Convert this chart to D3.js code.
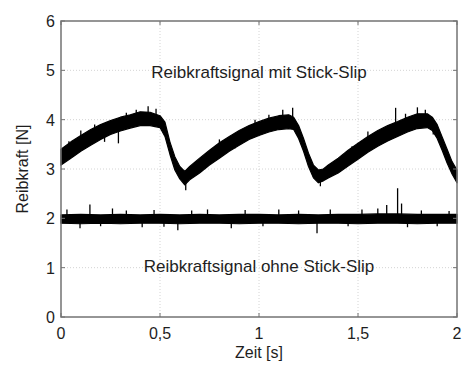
<!DOCTYPE html>
<html>
<head>
<meta charset="utf-8">
<script src="https://cdn.jsdelivr.net/npm/d3@7"></script>
<style>
  body { margin: 0; background: #fff; }
  text { font-family: 'Liberation Sans', Arial, Helvetica, sans-serif; fill: #1e1e1e; }
</style>
</head>
<body>
<div id="container"></div>
<script>
// Zeitachse und Bänder (obere/untere Kante des verrauschten Signals)
const stickTime = [0, 0.05, 0.1, 0.15, 0.2, 0.25, 0.3, 0.35, 0.4, 0.45, 0.5, 0.525, 0.55, 0.575, 0.6, 0.625, 0.65,
  0.7, 0.75, 0.8, 0.85, 0.9, 0.95, 1.0, 1.05, 1.1, 1.15, 1.175, 1.2, 1.225, 1.25, 1.275, 1.3, 1.325, 1.35,
  1.4, 1.45, 1.5, 1.55, 1.6, 1.65, 1.7, 1.75, 1.8, 1.85, 1.875, 1.9, 1.925, 1.95, 1.975, 2.0];
const stickHi = [3.40, 3.55, 3.68, 3.80, 3.90, 3.98, 4.05, 4.10, 4.16, 4.15, 4.08, 3.95, 3.55, 3.25, 3.05, 2.95, 3.05,
  3.22, 3.38, 3.53, 3.66, 3.78, 3.88, 3.96, 4.03, 4.08, 4.10, 4.05, 3.88, 3.62, 3.32, 3.08, 2.98, 3.00, 3.08,
  3.22, 3.38, 3.52, 3.66, 3.78, 3.88, 3.96, 4.05, 4.12, 4.12, 4.05, 3.90, 3.65, 3.40, 3.15, 2.98];
const stickLo = [3.08, 3.22, 3.36, 3.48, 3.60, 3.70, 3.77, 3.83, 3.88, 3.88, 3.84, 3.66, 3.30, 2.98, 2.80, 2.68, 2.78,
  2.92, 3.08, 3.22, 3.36, 3.48, 3.60, 3.68, 3.75, 3.80, 3.82, 3.80, 3.62, 3.36, 3.05, 2.82, 2.72, 2.76, 2.82,
  2.92, 3.06, 3.20, 3.34, 3.46, 3.57, 3.66, 3.75, 3.82, 3.84, 3.78, 3.62, 3.38, 3.12, 2.90, 2.72];

const flatTime = [0, 0.1, 0.2, 0.3, 0.4, 0.5, 0.6, 0.7, 0.8, 0.9, 1.0, 1.1, 1.2, 1.3, 1.4, 1.5, 1.6, 1.7, 1.8, 1.9, 2.0];
const flatHi = [2.07, 2.08, 2.07, 2.08, 2.07, 2.08, 2.07, 2.08, 2.07, 2.08, 2.08, 2.07, 2.08, 2.07, 2.08, 2.08, 2.09, 2.09, 2.08, 2.08, 2.08];
const flatLo = [1.90, 1.89, 1.90, 1.89, 1.90, 1.90, 1.89, 1.90, 1.90, 1.89, 1.90, 1.90, 1.89, 1.90, 1.90, 1.89, 1.90, 1.90, 1.89, 1.90, 1.90];

// einzelne Ausreißer [t, Wert]
const stickSpikes = [[0.04, 3.56], [0.1, 3.78], [0.17, 3.90], [0.22, 3.55], [0.29, 3.52], [0.33, 4.14], [0.38, 4.20],
  [0.44, 4.27], [0.48, 4.22], [0.63, 2.57], [0.8, 3.60], [0.88, 3.42], [0.98, 4.0], [1.05, 4.10], [1.12, 4.2],
  [1.17, 4.24], [1.31, 2.65], [1.47, 3.46], [1.55, 3.76], [1.65, 3.63], [1.69, 4.24], [1.74, 4.12], [1.8, 4.25],
  [1.84, 4.2], [1.88, 3.70]];
const flatSpikes = [[0.03, 2.18], [0.096, 1.80], [0.146, 2.28], [0.2, 1.84], [0.26, 2.20], [0.33, 2.16], [0.41, 1.82],
  [0.47, 2.17], [0.52, 1.83], [0.59, 1.76], [0.66, 2.16], [0.74, 2.18], [0.86, 1.80], [0.93, 2.17], [1.02, 1.84],
  [1.1, 2.18], [1.2, 2.16], [1.293, 1.70], [1.36, 2.18], [1.45, 1.84], [1.52, 2.18], [1.6, 2.2], [1.645, 2.27],
  [1.70, 2.61], [1.72, 2.3], [1.75, 1.82], [1.82, 2.16], [1.9, 1.84], [1.96, 2.15]];

const xTicks = [0, 0.5, 1, 1.5, 2];
const xTickLabels = ['0', '0,5', '1', '1,5', '2'];
const yTicks = [0, 1, 2, 3, 4, 5, 6];

const width = 470;
const height = 365;
const margin = { left: 61, top: 21, right: 13, bottom: 48 };

const svg = d3.select('#container').append('svg').attr('width', width).attr('height', height);

const xScale = d3.scaleLinear().domain([0, 2]).range([margin.left, width - margin.right]);
const yScale = d3.scaleLinear().domain([0, 6]).range([height - margin.bottom, margin.top]);

// Gitter
const grid = svg.append('g').attr('stroke', '#d4d4d4').attr('stroke-dasharray', '1,2').attr('stroke-width', 1);
grid.selectAll('.gx').data(xTicks.slice(1, -1)).enter().append('line')
  .attr('x1', (d) => xScale(d)).attr('x2', (d) => xScale(d))
  .attr('y1', yScale(0)).attr('y2', yScale(6));
grid.selectAll('.gy').data(yTicks.slice(1, -1)).enter().append('line')
  .attr('x1', xScale(0)).attr('x2', xScale(2))
  .attr('y1', (d) => yScale(d)).attr('y2', (d) => yScale(d));

// Signale
const interp = (times, vals, t) => {
  const i = Math.min(Math.max(d3.bisectLeft(times, t), 1), times.length - 1);
  const f = (t - times[i - 1]) / (times[i] - times[i - 1]);
  return vals[i - 1] + f * (vals[i] - vals[i - 1]);
};

const drawBand = (times, hi, lo, spikes) => {
  const band = d3.area()
    .x((d) => xScale(times[d]))
    .y0((d) => yScale(lo[d]))
    .y1((d) => yScale(hi[d]));
  svg.append('path')
    .datum(d3.range(times.length))
    .attr('fill', '#000')
    .attr('stroke', '#000')
    .attr('stroke-width', 1.2)
    .attr('stroke-linejoin', 'round')
    .attr('d', band);
  svg.append('g').selectAll('line').data(spikes).enter().append('line')
    .attr('stroke', '#000')
    .attr('stroke-width', 1.3)
    .attr('x1', (d) => xScale(d[0])).attr('x2', (d) => xScale(d[0]))
    .attr('y1', (d) => yScale((interp(times, hi, d[0]) + interp(times, lo, d[0])) / 2))
    .attr('y2', (d) => yScale(d[1]));
};
drawBand(stickTime, stickHi, stickLo, stickSpikes);
drawBand(flatTime, flatHi, flatLo, flatSpikes);

// Achsenrahmen
svg.append('rect')
  .attr('x', xScale(0)).attr('y', yScale(6))
  .attr('width', xScale(2) - xScale(0)).attr('height', yScale(0) - yScale(6))
  .attr('fill', 'none').attr('stroke', '#737373').attr('stroke-width', 1.5);

const ticks = svg.append('g').attr('stroke', '#737373').attr('stroke-width', 1);
xTicks.forEach((d) => {
  ticks.append('line').attr('x1', xScale(d)).attr('x2', xScale(d)).attr('y1', yScale(0)).attr('y2', yScale(0) - 4);
  ticks.append('line').attr('x1', xScale(d)).attr('x2', xScale(d)).attr('y1', yScale(6)).attr('y2', yScale(6) + 4);
});
yTicks.forEach((d) => {
  ticks.append('line').attr('x1', xScale(0)).attr('x2', xScale(0) + 4).attr('y1', yScale(d)).attr('y2', yScale(d));
  ticks.append('line').attr('x1', xScale(2)).attr('x2', xScale(2) - 4).attr('y1', yScale(d)).attr('y2', yScale(d));
});

// Beschriftung
svg.append('g').selectAll('text').data(xTicks).enter().append('text')
  .attr('x', (d) => xScale(d)).attr('y', yScale(0) + 22)
  .attr('text-anchor', 'middle').attr('font-size', 16)
  .text((d, i) => xTickLabels[i]);
svg.append('g').selectAll('text').data(yTicks).enter().append('text')
  .attr('x', xScale(0) - 6).attr('y', (d) => yScale(d) + 6)
  .attr('text-anchor', 'end').attr('font-size', 16)
  .text((d) => d);

svg.append('text')
  .attr('x', (xScale(0) + xScale(2)) / 2).attr('y', 358)
  .attr('text-anchor', 'middle').attr('font-size', 16).text('Zeit [s]');
svg.append('text')
  .attr('transform', `translate(28,${(yScale(0) + yScale(6)) / 2}) rotate(-90)`)
  .attr('text-anchor', 'middle').attr('font-size', 16).text('Reibkraft [N]');

svg.append('text')
  .attr('x', xScale(1)).attr('y', 78)
  .attr('text-anchor', 'middle').attr('font-size', 17).text('Reibkraftsignal mit Stick-Slip');
svg.append('text')
  .attr('x', xScale(1)).attr('y', 272)
  .attr('text-anchor', 'middle').attr('font-size', 17).text('Reibkraftsignal ohne Stick-Slip');
</script>
</body>
</html>
